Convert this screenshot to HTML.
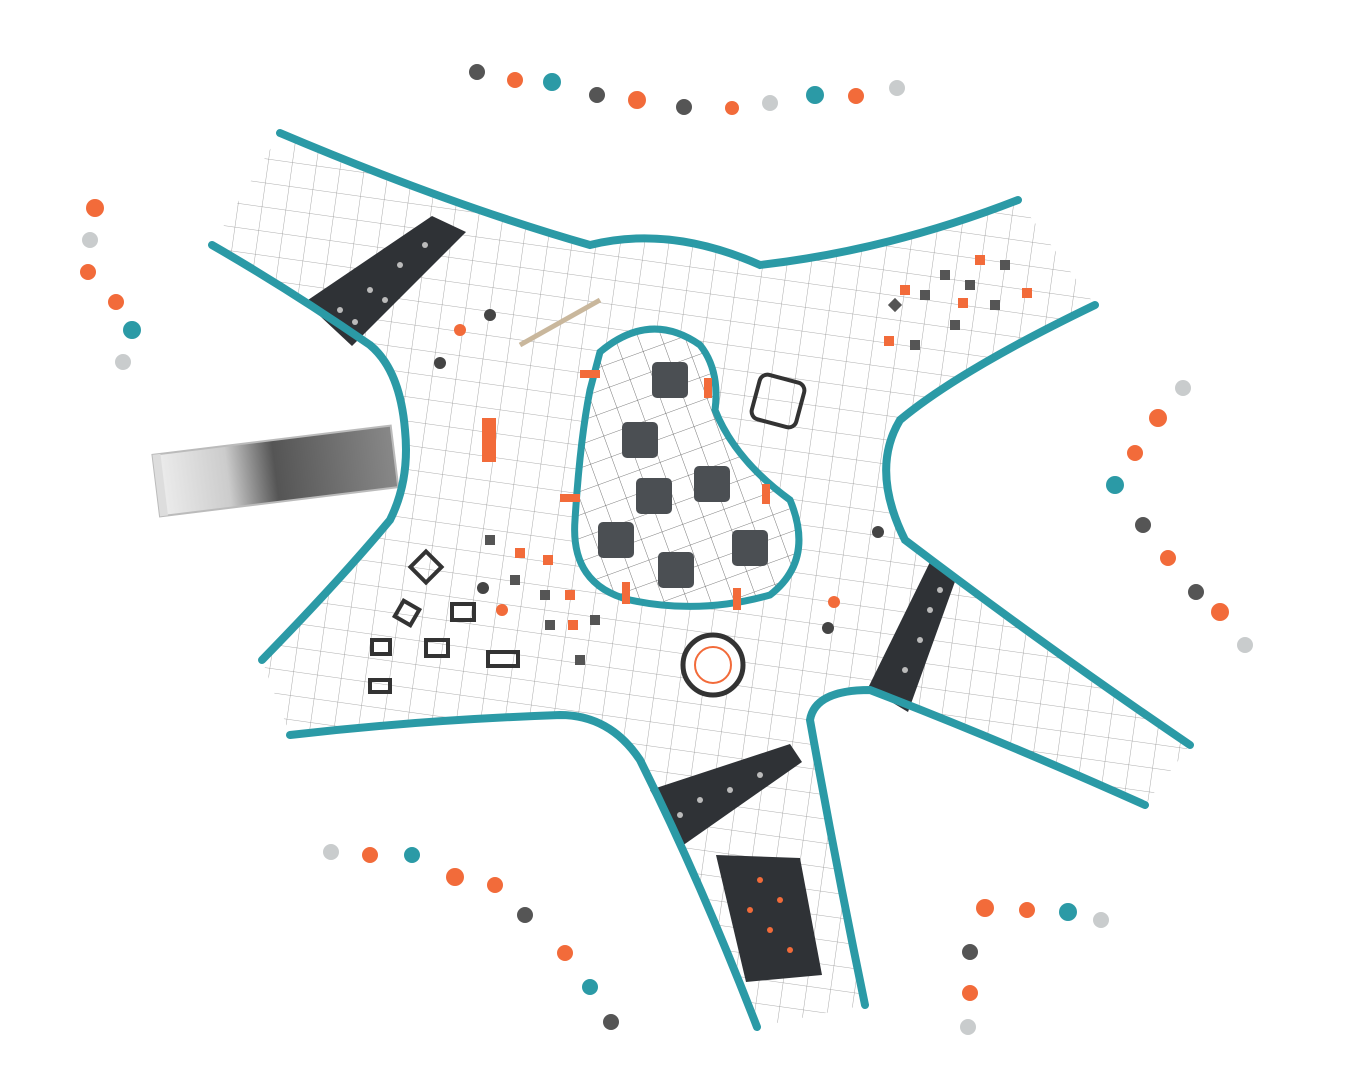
<!DOCTYPE html>
<html><head><meta charset="utf-8"><style>
html,body{margin:0;padding:0;background:#fff;width:1354px;height:1080px;overflow:hidden}
svg{display:block}
</style></head><body>
<svg width="1354" height="1080" viewBox="0 0 1354 1080" xmlns="http://www.w3.org/2000/svg">
<defs>
<pattern id="g" width="24" height="24" patternUnits="userSpaceOnUse" patternTransform="rotate(8)">
<path d="M0 0H24M0 0V24" stroke="#666" stroke-width="0.8" fill="none"/>
</pattern>
<pattern id="g2" width="22" height="22" patternUnits="userSpaceOnUse" patternTransform="rotate(-20)">
<path d="M0 0H22M0 0V22" stroke="#555" stroke-width="0.8" fill="none"/>
</pattern>
<linearGradient id="sl" x1="0" y1="0" x2="1" y2="0">
<stop offset="0" stop-color="#eee"/><stop offset="0.3" stop-color="#ccc"/><stop offset="0.5" stop-color="#555"/><stop offset="1" stop-color="#888"/>
</linearGradient>
</defs>

<g transform="rotate(-7 275 468)">
<rect x="155" y="440" width="240" height="62" fill="url(#sl)" stroke="#bbb" stroke-width="2"/>
<rect x="155" y="440" width="8" height="62" fill="#ddd"/>
</g>

<path d="M280 133 Q450 205 590 245 Q670 225 760 265 Q890 250 1018 200 L1095 305 Q960 370 900 420 Q870 470 905 540 Q1050 650 1190 745 L1145 805 Q1000 740 870 690 Q815 690 810 720 Q835 860 865 1005 L757 1027 Q700 880 640 760 Q610 715 560 715 Q420 720 290 735 L262 660 Q340 580 390 520 Q410 480 405 430 Q400 370 370 345 Q290 290 212 245 Z" fill="#fff" stroke="none"/>
<path d="M280 133 Q450 205 590 245 Q670 225 760 265 Q890 250 1018 200 L1095 305 Q960 370 900 420 Q870 470 905 540 Q1050 650 1190 745 L1145 805 Q1000 740 870 690 Q815 690 810 720 Q835 860 865 1005 L757 1027 Q700 880 640 760 Q610 715 560 715 Q420 720 290 735 L262 660 Q340 580 390 520 Q410 480 405 430 Q400 370 370 345 Q290 290 212 245 Z" fill="url(#g)" opacity="0.7"/>

<polygon points="305,302 352,346 466,232 432,216" fill="#2f3236"/>
<polygon points="868,688 908,712 957,576 930,562" fill="#2f3236"/>
<polygon points="650,790 682,846 802,762 790,744" fill="#2f3236"/>
<polygon points="716,855 800,858 822,975 746,982" fill="#2f3236"/>
<g fill="#bbb">
<circle cx="340" cy="310" r="3"/><circle cx="370" cy="290" r="3"/><circle cx="400" cy="265" r="3"/><circle cx="425" cy="245" r="3"/><circle cx="355" cy="322" r="3"/><circle cx="385" cy="300" r="3"/>
<circle cx="920" cy="640" r="3"/><circle cx="930" cy="610" r="3"/><circle cx="905" cy="670" r="3"/><circle cx="940" cy="590" r="3"/>
<circle cx="700" cy="800" r="3"/><circle cx="730" cy="790" r="3"/><circle cx="760" cy="775" r="3"/><circle cx="680" cy="815" r="3"/>
</g>
<g fill="#f26b3a"><circle cx="760" cy="880" r="3"/><circle cx="780" cy="900" r="3"/><circle cx="770" cy="930" r="3"/><circle cx="790" cy="950" r="3"/><circle cx="750" cy="910" r="3"/></g>

<path d="M600 352 Q650 310 700 345 Q720 370 715 410 Q735 460 790 500 Q815 560 770 595 Q700 615 630 600 Q570 585 575 520 Q580 440 590 390 Z" fill="#fff"/>
<path d="M600 352 Q650 310 700 345 Q720 370 715 410 Q735 460 790 500 Q815 560 770 595 Q700 615 630 600 Q570 585 575 520 Q580 440 590 390 Z" fill="url(#g2)" stroke="#2b9aa6" stroke-width="7"/>
<g fill="#4b4f53">
<rect x="652" y="362" width="36" height="36" rx="5"/><rect x="622" y="422" width="36" height="36" rx="5"/>
<rect x="636" y="478" width="36" height="36" rx="5"/><rect x="694" y="466" width="36" height="36" rx="5"/>
<rect x="598" y="522" width="36" height="36" rx="5"/><rect x="658" y="552" width="36" height="36" rx="5"/>
<rect x="732" y="530" width="36" height="36" rx="5"/>
</g>
<g fill="#f26b3a">
<rect x="580" y="370" width="20" height="8"/><rect x="704" y="378" width="8" height="20"/><rect x="762" y="484" width="8" height="20"/>
<rect x="560" y="494" width="20" height="8"/><rect x="622" y="582" width="8" height="22"/><rect x="733" y="588" width="8" height="22"/>
</g>

<rect x="482" y="418" width="14" height="44" fill="#f26b3a"/>
<circle cx="713" cy="665" r="30" fill="#fff" stroke="#333" stroke-width="5"/>
<circle cx="713" cy="665" r="18" fill="none" stroke="#f26b3a" stroke-width="2"/>
<rect x="755" y="378" width="46" height="46" rx="8" fill="none" stroke="#333" stroke-width="4" transform="rotate(15 778 401)"/>
<line x1="520" y1="345" x2="600" y2="300" stroke="#c9b79c" stroke-width="5"/>
<g fill="none" stroke="#333" stroke-width="4">
<rect x="415" y="556" width="22" height="22" transform="rotate(45 426 567)"/><rect x="398" y="604" width="18" height="18" transform="rotate(30 407 613)"/>
<rect x="452" y="604" width="22" height="16"/><rect x="426" y="640" width="22" height="16"/><rect x="372" y="640" width="18" height="14"/>
<rect x="370" y="680" width="20" height="12"/><rect x="488" y="652" width="30" height="14"/>
</g>
<g fill="#555">
<rect x="890" y="300" width="10" height="10" transform="rotate(45 895 305)"/><rect x="940" y="270" width="10" height="10"/><rect x="965" y="280" width="10" height="10"/>
<rect x="920" y="290" width="10" height="10"/><rect x="950" y="320" width="10" height="10"/><rect x="990" y="300" width="10" height="10"/><rect x="1000" y="260" width="10" height="10"/><rect x="910" y="340" width="10" height="10"/>
<rect x="485" y="535" width="10" height="10"/><rect x="510" y="575" width="10" height="10"/><rect x="540" y="590" width="10" height="10"/><rect x="545" y="620" width="10" height="10"/><rect x="575" y="655" width="10" height="10"/><rect x="590" y="615" width="10" height="10"/>
</g>
<g fill="#f26b3a">
<rect x="900" y="285" width="10" height="10"/><rect x="975" y="255" width="10" height="10"/><rect x="958" y="298" width="10" height="10"/><rect x="1022" y="288" width="10" height="10"/><rect x="884" y="336" width="10" height="10"/>
<rect x="515" y="548" width="10" height="10"/><rect x="543" y="555" width="10" height="10"/><rect x="565" y="590" width="10" height="10"/><rect x="568" y="620" width="10" height="10"/>
</g>
<g fill="#444"><circle cx="490" cy="315" r="6"/><circle cx="440" cy="363" r="6"/><circle cx="483" cy="588" r="6"/><circle cx="828" cy="628" r="6"/><circle cx="878" cy="532" r="6"/></g>
<g fill="#f26b3a"><circle cx="460" cy="330" r="6"/><circle cx="502" cy="610" r="6"/><circle cx="834" cy="602" r="6"/></g>

<g fill="none" stroke="#2b9aa6" stroke-width="8" stroke-linecap="round">
<path d="M280 133 Q450 205 590 245 Q670 225 760 265 Q890 250 1018 200"/>
<path d="M1095 305 Q960 370 900 420 Q870 470 905 540 Q1050 650 1190 745"/>
<path d="M1145 805 Q1000 740 870 690 Q815 690 810 720 Q835 860 865 1005"/>
<path d="M757 1027 Q700 880 640 760 Q610 715 560 715 Q420 720 290 735"/>
<path d="M262 660 Q340 580 390 520 Q410 480 405 430 Q400 370 370 345 Q290 290 212 245"/>
</g>

<g>
<g fill="#f26b3a"><circle cx="515" cy="80" r="8"/><circle cx="637" cy="100" r="9"/><circle cx="732" cy="108" r="7"/><circle cx="856" cy="96" r="8"/>
<circle cx="95" cy="208" r="9"/><circle cx="88" cy="272" r="8"/><circle cx="116" cy="302" r="8"/>
<circle cx="1158" cy="418" r="9"/><circle cx="1135" cy="453" r="8"/><circle cx="1168" cy="558" r="8"/><circle cx="1220" cy="612" r="9"/>
<circle cx="370" cy="855" r="8"/><circle cx="455" cy="877" r="9"/><circle cx="495" cy="885" r="8"/><circle cx="565" cy="953" r="8"/>
<circle cx="985" cy="908" r="9"/><circle cx="1027" cy="910" r="8"/><circle cx="970" cy="993" r="8"/></g>
<g fill="#2b9aa6"><circle cx="552" cy="82" r="9"/><circle cx="815" cy="95" r="9"/><circle cx="132" cy="330" r="9"/><circle cx="1115" cy="485" r="9"/><circle cx="412" cy="855" r="8"/><circle cx="590" cy="987" r="8"/><circle cx="1068" cy="912" r="9"/></g>
<g fill="#555"><circle cx="477" cy="72" r="8"/><circle cx="597" cy="95" r="8"/><circle cx="684" cy="107" r="8"/><circle cx="1143" cy="525" r="8"/><circle cx="1196" cy="592" r="8"/><circle cx="525" cy="915" r="8"/><circle cx="611" cy="1022" r="8"/><circle cx="970" cy="952" r="8"/></g>
<g fill="#c9cccd"><circle cx="770" cy="103" r="8"/><circle cx="897" cy="88" r="8"/><circle cx="90" cy="240" r="8"/><circle cx="123" cy="362" r="8"/><circle cx="1183" cy="388" r="8"/><circle cx="1245" cy="645" r="8"/><circle cx="331" cy="852" r="8"/><circle cx="1101" cy="920" r="8"/><circle cx="968" cy="1027" r="8"/></g>
</g>
</svg>
</body></html>
